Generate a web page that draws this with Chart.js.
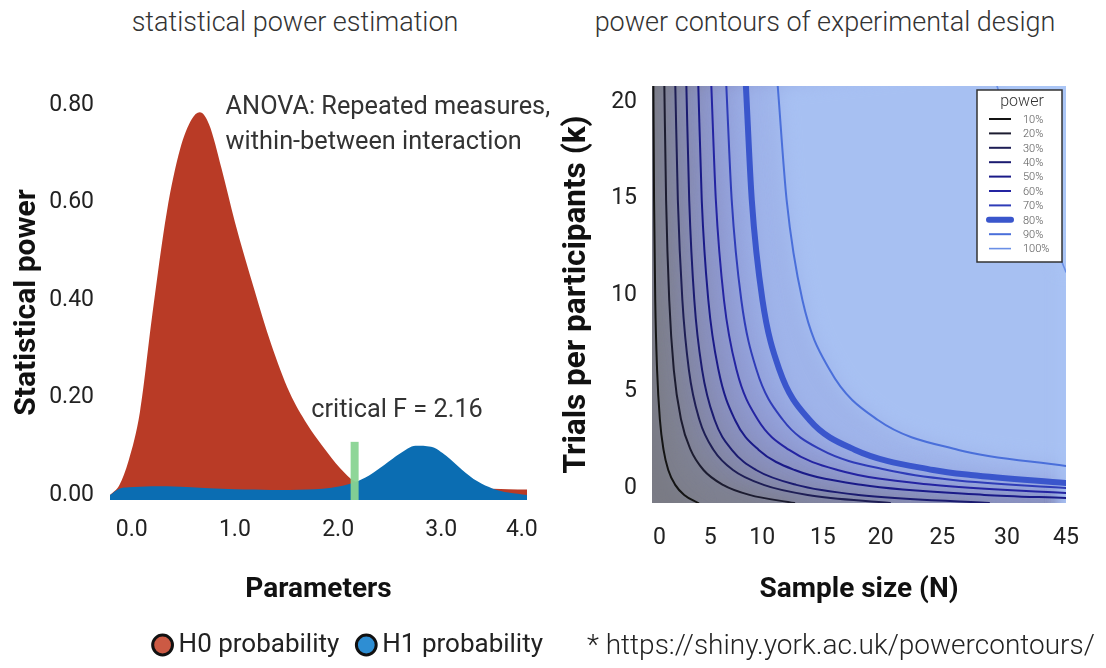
<!DOCTYPE html>
<html>
<head>
<meta charset="utf-8">
<title>statistical power</title>
<script src="https://cdn.jsdelivr.net/npm/chart.js@4.4.1/dist/chart.umd.min.js"></script>
<style>
  html, body { margin: 0; padding: 0; background: #fff; }
  body {
    position: relative; width: 1106px; height: 668px; overflow: hidden;
    font-family: Roboto, "Liberation Sans", sans-serif;
  }
  .head { position: absolute; top: 6px; height: 32px; line-height: 32px; font-size: 27px; font-weight: 300; color: #333; text-align: center; white-space: nowrap; }
  .box { position: absolute; top: 0; height: 668px; }
  #note { position: absolute; left: 587px; top: 630px; font-size: 28px; font-weight: 300; line-height: 30px; color: #222; white-space: nowrap; }
</style>
</head>
<body>
<div class="head" style="left:95px; width:400px;">statistical power estimation</div>
<div class="head" style="left:575px; width:500px;">power contours of experimental design</div>
<div class="box" style="left:0; width:567px;"><canvas id="powerChart"></canvas></div>
<div class="box" style="left:557px; width:549px;"><canvas id="contourChart"></canvas></div>
<div id="note">* https://shiny.york.ac.uk/powercontours/</div>
<script>
const FONT = 'Roboto, "Liberation Sans", sans-serif';
Chart.defaults.font.family = FONT;
Chart.defaults.color = "#222";

// left panel: distributions under H0 / H1
const paramX = [-0.21, -0.12, -0.03, 0.08, 0.2, 0.34, 0.47, 0.58, 0.66, 0.75, 0.87, 1.0, 1.19, 1.35, 1.53,
  1.7, 1.85, 2.02, 2.16, 2.3, 2.45, 2.6, 2.75, 2.9, 3.05, 3.2, 3.35, 3.5, 3.65, 3.83];
const h0Power = [0, 0.02, 0.07, 0.17, 0.37, 0.58, 0.71, 0.77, 0.785, 0.76, 0.67, 0.56, 0.42, 0.31, 0.21,
  0.145, 0.1, 0.055, 0.028, 0.02, 0.018, 0.016, 0.015, 0.014, 0.013, 0.013, 0.013, 0.013, 0.012, 0.011];
const h1Power = [0, 0.013, 0.016, 0.017, 0.018, 0.018, 0.017, 0.016, 0.015, 0.014, 0.013, 0.012, 0.011, 0.01, 0.01,
  0.011, 0.013, 0.018, 0.026, 0.04, 0.062, 0.085, 0.101, 0.099, 0.08, 0.052, 0.028, 0.013, 0.005, 0];
const paramTicks = [0, 1, 2, 3, 3.78];
const paramTickLabels = ["0.0", "1.0", "2.0", "3.0", "4.0"];
const powerTicks = [0, 0.2, 0.4, 0.6, 0.8];
const criticalF = 2.16;
const criticalBarTop = 0.109;

// right panel: contour lines (x in axis position units, y in trials)
const sampleTickPos = [0, 5.2, 10.5, 16.7, 22.6, 28.9, 35.5, 41.53];
const sampleTickLabels = ["0", "5", "10", "15", "20", "25", "30", "45"];
const trialTicks = [0, 5, 10, 15, 20];
const powerLevels = ["10%", "20%", "30%", "40%", "50%", "60%", "70%", "80%", "90%", "100%"];
const contour10 = [[-0.61, 20.83], [-0.54, 14.92], [-0.42, 9.74], [-0.23, 6.11], [0.06, 3.52], [0.43, 1.97], [0.91, 0.93], [1.62, 0.16], [2.54, -0.36], [3.98, -0.78]];
const contour20 = [[0.51, 20.83], [0.69, 14.92], [1.01, 9.74], [1.48, 6.11], [2.23, 3.52], [3.2, 1.97], [4.51, 0.93], [6.5, 0.16], [9.2, -0.36], [13.78, -0.78]];
const contour30 = [[1.63, 20.83], [1.89, 14.92], [2.35, 9.74], [3.02, 6.11], [4.1, 3.52], [5.54, 1.97], [7.52, 0.93], [10.65, 0.16], [15.15, -0.36], [23.57, -0.78]];
const contour40 = [[2.76, 20.83], [3.05, 14.92], [3.57, 9.74], [4.37, 6.11], [5.65, 3.52], [7.4, 1.97], [9.88, 0.93], [13.99, 0.16], [20.33, -0.36], [33.67, -0.78]];
const contour50 = [[3.98, 20.83], [4.33, 14.92], [5.0, 9.74], [6.04, 6.11], [7.73, 3.52], [10.15, 1.97], [13.82, 0.93], [20.6, 0.16], [33.19, -0.36], [41.53, -0.52]];
const contour60 = [[5.31, 20.83], [5.77, 14.92], [6.6, 9.74], [7.89, 6.11], [10.08, 3.52], [13.26, 1.97], [18.2, 0.93], [27.89, 0.16], [41.53, -0.26]];
const contour70 = [[6.84, 20.83], [7.39, 14.92], [8.37, 9.74], [9.93, 6.11], [12.63, 3.52], [16.56, 1.97], [23.27, 0.93], [30.0, 0.41], [41.53, 0]];
const contour80 = [[8.84, 20.83], [9.44, 14.92], [10.53, 9.74], [12.27, 6.11], [15.34, 3.52], [20.0, 1.97], [27.96, 0.93], [31.8, 0.67], [41.53, 0.26]];
const contour90 = [[12.09, 20.83], [13.0, 14.92], [14.61, 9.74], [17.41, 6.11], [22.32, 3.52], [30.55, 1.97], [41.53, 1.14]];
const contour100 = [[34.49, 20.83], [35.82, 18.55], [37.35, 16.48], [38.88, 14.4], [40.41, 12.59], [41.53, 11.19]];

const contours = [contour10, contour20, contour30, contour40, contour50, contour60, contour70, contour80, contour90, contour100];
const contourColors = ["#141414", "#1c1c30", "#1e1e55", "#1b1b70", "#1a1a88", "#2424a2", "#2f3cb8", "#3a56cc", "#4a6fda", "#6a8fe6"];
const contourWidths = [2, 2, 2, 2, 2, 2, 2, 6, 2, 1.6];
const bandColors = ["#7a7b85", "#7e808f", "#81849c", "#8488aa", "#888eb9", "#8c95c8", "#919dd5", "#97a8e1", "#9fb4ea", "#a7c0f2", "#abc6f6"];
const legendDots = ["#cc5a44", "#2e8ed3"];

function toPoints(xs, ys) {
  return xs.map((x, i) => ({ x: x, y: ys[i] }));
}

function pairsToPoints(pairs) {
  return pairs.map((p) => ({ x: p[0], y: p[1] }));
}

function fixedTicks(values) {
  return (scale) => {
    scale.ticks = values.map((v) => ({ value: v }));
  };
}

const tickFont = { size: 23 };
const axisTitleFont = { size: 28, weight: "bold" };

// text notes placed in data coordinates
const noteLabels = {
  id: "noteLabels",
  afterDatasetsDraw(chart, args, opts) {
    const { ctx, scales } = chart;
    ctx.save();
    ctx.font = opts.size + "px " + FONT;
    ctx.fillStyle = opts.color;
    ctx.textAlign = "left";
    ctx.textBaseline = "middle";
    opts.items.forEach((it) => {
      ctx.fillText(it.text, scales.x.getPixelForValue(it.x), scales.y.getPixelForValue(it.y));
    });
    ctx.restore();
  },
};

// paints the area beyond each contour, lowest power first, softened so it reads as a gradient
const contourFill = {
  id: "contourFill",
  beforeDatasetsDraw(chart) {
    const { ctx, chartArea: a } = chart;
    ctx.save();
    ctx.beginPath();
    ctx.rect(a.left, a.top, a.width, a.height);
    ctx.clip();
    ctx.fillStyle = bandColors[0];
    ctx.fillRect(a.left, a.top, a.width, a.height);
    ctx.filter = "blur(9px)";
    chart.data.datasets.forEach((ds, i) => {
      const line = chart.getDatasetMeta(i).dataset;
      const pts = line.points;
      const first = pts[0];
      const last = pts[pts.length - 1];
      line.updateControlPoints(a, "x");
      ctx.beginPath();
      ctx.moveTo(first.x, a.top - 40);
      line.path(ctx);
      ctx.lineTo(last.x, a.bottom + 40);
      ctx.lineTo(a.right + 40, a.bottom + 40);
      ctx.lineTo(a.right + 40, a.top - 40);
      ctx.closePath();
      ctx.fillStyle = bandColors[i + 1];
      ctx.fill();
    });
    ctx.restore();
  },
};

const powerLegend = {
  id: "powerLegend",
  afterDatasetsDraw(chart, args, o) {
    const { ctx, chartArea: a } = chart;
    const left = a.right - o.right - o.width;
    const top = a.top + o.top;
    ctx.save();
    ctx.fillStyle = "#fff";
    ctx.fillRect(left, top, o.width, o.height);
    ctx.strokeStyle = "#333";
    ctx.lineWidth = 1.5;
    ctx.strokeRect(left, top, o.width, o.height);
    ctx.fillStyle = "#333";
    ctx.textBaseline = "middle";
    ctx.textAlign = "center";
    ctx.font = "300 16px " + FONT;
    ctx.fillText(o.title, left + 45, top + 12);
    ctx.textAlign = "left";
    ctx.font = "300 11px " + FONT;
    chart.data.datasets.forEach((ds, i) => {
      const y = top + 29 + i * 14.4;
      ctx.strokeStyle = ds.borderColor;
      ctx.lineWidth = ds.borderWidth;
      ctx.lineCap = ds.borderWidth > 3 ? "round" : "butt";
      ctx.beginPath();
      ctx.moveTo(left + 12, y);
      ctx.lineTo(left + 34, y);
      ctx.stroke();
      ctx.fillStyle = "#555";
      ctx.fillText(ds.label, left + 46, y + 1);
    });
    ctx.restore();
  },
};

function drawPowerChart() {
  const ctx = document.getElementById("powerChart");
  new Chart(ctx, {
    type: "line",
    data: {
      datasets: [
        {
          label: "H0 probability",
          data: toPoints(paramX, h0Power),
          backgroundColor: "#b93b26",
          borderColor: "#b93b26",
          borderWidth: 0,
          fill: "start",
          pointRadius: 0,
          cubicInterpolationMode: "monotone",
          order: 3,
        },
        {
          label: "H1 probability",
          data: toPoints(paramX, h1Power),
          backgroundColor: "#0b6db2",
          borderColor: "#0b6db2",
          borderWidth: 0,
          fill: "start",
          pointRadius: 0,
          cubicInterpolationMode: "monotone",
          order: 2,
        },
        {
          label: "critical F",
          data: [{ x: criticalF, y: -0.0103 }, { x: criticalF, y: criticalBarTop }],
          borderColor: "rgba(136, 212, 146, 0.95)",
          borderWidth: 8,
          borderCapStyle: "butt",
          fill: false,
          pointRadius: 0,
          order: 1,
        },
      ],
    },
    options: {
      responsive: true,
      maintainAspectRatio: false,
      animation: false,
      layout: { padding: { top: 105, right: 0, bottom: 0, left: 0 } },
      plugins: {
        tooltip: { enabled: false },
        legend: {
          position: "bottom",
          align: "end",
          labels: {
            usePointStyle: true,
            pointStyle: "circle",
            boxWidth: 6,
            boxHeight: 14,
            padding: 24,
            color: "#222",
            font: { size: 26 },
            generateLabels: (chart) =>
              Chart.defaults.plugins.legend.labels.generateLabels(chart)
                .filter((it) => it.datasetIndex < 2)
                .map((it) => Object.assign(it, {
                  fillStyle: legendDots[it.datasetIndex],
                  strokeStyle: "#111",
                  lineWidth: 3,
                  pointStyle: "circle",
                })),
            sort: (a, b) => a.datasetIndex - b.datasetIndex,
          },
        },
        noteLabels: {
          size: 25.3,
          color: "#333",
          items: [
            { text: "ANOVA: Repeated measures,", x: 0.91, y: 0.794 },
            { text: "within-between interaction", x: 0.91, y: 0.722 },
            { text: "critical F = 2.16", x: 1.74, y: 0.172 },
          ],
        },
      },
      scales: {
        x: {
          type: "linear",
          min: -0.21,
          max: 3.83,
          afterBuildTicks: fixedTicks(paramTicks),
          afterFit: (s) => { s.height = 108; },
          ticks: { callback: (v, i) => paramTickLabels[i], font: tickFont, padding: 16, maxRotation: 0, autoSkip: false },
          grid: { display: false, drawTicks: false },
          border: { display: false },
          title: { display: true, text: "Parameters", font: axisTitleFont, color: "#111", padding: { top: 0, bottom: 1 } },
        },
        y: {
          min: -0.0103,
          max: 0.8,
          afterBuildTicks: fixedTicks(powerTicks),
          afterFit: (s) => { s.width = 110; },
          ticks: { callback: (v) => v.toFixed(2), font: tickFont, padding: 16 },
          grid: { display: false, drawTicks: false },
          border: { display: false },
          title: { display: true, text: "Statistical power", font: { size: 30, weight: "bold" }, color: "#111", padding: { top: 9, bottom: 0 } },
        },
        y2: {
          type: "linear",
          position: "right",
          afterFit: (s) => { s.width = 40; },
          ticks: { display: false },
          grid: { display: false, drawTicks: false },
          border: { display: false },
        },
      },
    },
    plugins: [noteLabels],
  });
}

function drawContourChart() {
  const ctx = document.getElementById("contourChart");
  const datasets = contours.map((c, i) => ({
    label: powerLevels[i],
    data: pairsToPoints(c),
    borderColor: contourColors[i],
    borderWidth: contourWidths[i],
    borderCapStyle: "round",
    fill: false,
    pointRadius: 0,
    cubicInterpolationMode: "monotone",
  }));

  new Chart(ctx, {
    type: "line",
    data: { datasets: datasets },
    options: {
      responsive: true,
      maintainAspectRatio: false,
      animation: false,
      layout: { padding: { top: 86, right: 40, bottom: 48, left: 0 } },
      plugins: {
        legend: { display: false },
        tooltip: { enabled: false },
        powerLegend: { title: "power", right: 4, top: 4, width: 85, height: 172 },
      },
      scales: {
        x: {
          type: "linear",
          min: -0.75,
          max: 41.53,
          afterBuildTicks: fixedTicks(sampleTickPos),
          afterFit: (s) => { s.height = 117; },
          ticks: { callback: (v, i) => sampleTickLabels[i], font: tickFont, padding: 21, maxRotation: 0, autoSkip: false },
          grid: { display: false, drawTicks: false },
          border: { display: false },
          title: { display: true, text: "Sample size (N)", font: axisTitleFont, color: "#111", padding: { top: 0, bottom: 13 } },
        },
        y: {
          type: "linear",
          min: -0.78,
          max: 20.83,
          afterBuildTicks: fixedTicks(trialTicks),
          afterFit: (s) => { s.width = 95; },
          ticks: { font: tickFont, padding: 15 },
          grid: { display: false, drawTicks: false },
          border: { display: false },
          title: { display: true, text: "Trials per participants (k)", font: { size: 31.5, weight: "bold" }, color: "#111", padding: { top: 1, bottom: 0 } },
        },
      },
    },
    plugins: [contourFill, powerLegend],
  });
}

drawPowerChart();
drawContourChart();
</script>
</body>
</html>
